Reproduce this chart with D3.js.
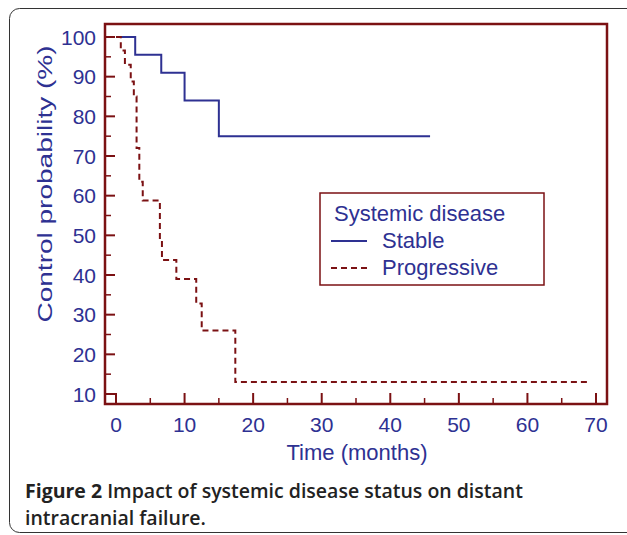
<!DOCTYPE html>
<html><head><meta charset="utf-8">
<script src="https://cdn.jsdelivr.net/npm/d3@7"></script>
<style>body{margin:0;background:#fff}</style>
</head><body><svg></svg>
<script>
const [W, H] = [627, 535];
const stableT = [0, 2.8, 6.6, 10, 15, 45.8];
const stableS = [100, 95.5, 91, 84, 75, 75];
const progT = [0, 0.7, 1.3, 2.15, 2.6, 3.0, 3.4, 3.9, 6.4, 6.7, 8.8, 11.7, 12.5, 17.4, 68.8];
const progS = [100, 96.6, 93, 88.8, 85, 72, 63.5, 58.8, 49, 43.8, 39, 32.8, 26, 13, 13];
const xTicks = [0, 10, 20, 30, 40, 50, 60, 70];
const yTicks = [10, 20, 30, 40, 50, 60, 70, 80, 90, 100];
const axisCol = '#7b1113', textCol = '#2e3192';
const font = 'Liberation Sans, Arial';

const svg = d3.select('svg').attr('width', W).attr('height', H);
svg.append('rect').attr('x', 9.5).attr('y', 8.5).attr('width', 640).attr('height', 524)
  .attr('rx', 10).attr('fill', 'none').attr('stroke', '#333').attr('stroke-width', 1);

const box = {l: 105, r: 607, t: 24, b: 404};
const x = d3.scaleLinear().domain([0, 70]).range([116, 596]);
const y = d3.scaleLinear().domain([10, 100]).range([394, 37]);

const toPts = (T, S) => T.map((t, i) => [t, S[i]]);
const line = d3.line().x(d => x(d[0])).y(d => y(d[1])).curve(d3.curveStepAfter);

svg.append('path').datum(toPts(stableT, stableS)).attr('d', line)
  .attr('fill', 'none').attr('stroke', '#2e3192').attr('stroke-width', 2);
svg.append('path').datum(toPts(progT, progS)).attr('d', line)
  .attr('fill', 'none').attr('stroke', axisCol).attr('stroke-width', 2).attr('stroke-dasharray', '6,4');

svg.append('rect').attr('x', box.l).attr('y', box.t).attr('width', box.r - box.l).attr('height', box.b - box.t)
  .attr('fill', 'none').attr('stroke', axisCol).attr('stroke-width', 2.5);

const yMinor = d3.range(15, 100, 10);
svg.append('g').selectAll('line').data(yTicks).join('line')
  .attr('x1', box.l).attr('x2', box.l + 10).attr('y1', d => y(d)).attr('y2', d => y(d))
  .attr('stroke', axisCol).attr('stroke-width', 2);
svg.append('g').selectAll('line').data(yMinor).join('line')
  .attr('x1', box.l).attr('x2', box.l + 6).attr('y1', d => y(d)).attr('y2', d => y(d))
  .attr('stroke', axisCol).attr('stroke-width', 1.5);
svg.append('g').selectAll('text').data(yTicks).join('text')
  .attr('x', 96).attr('y', d => y(d)).attr('dy', '0.36em').attr('text-anchor', 'end')
  .attr('font-family', font).attr('font-size', 21).attr('fill', textCol).text(d => d);

const xMinor = d3.range(5, 70, 10);
svg.append('g').selectAll('line').data(xTicks).join('line')
  .attr('x1', d => x(d)).attr('x2', d => x(d)).attr('y1', box.b).attr('y2', box.b - 11)
  .attr('stroke', axisCol).attr('stroke-width', 2);
svg.append('g').selectAll('line').data(xMinor).join('line')
  .attr('x1', d => x(d)).attr('x2', d => x(d)).attr('y1', box.b).attr('y2', box.b - 6)
  .attr('stroke', axisCol).attr('stroke-width', 1.5);
svg.append('g').selectAll('text').data(xTicks).join('text')
  .attr('x', d => x(d)).attr('y', 432).attr('text-anchor', 'middle')
  .attr('font-family', font).attr('font-size', 21).attr('fill', textCol).text(d => d);

svg.append('text').attr('x', 357).attr('y', 460).attr('text-anchor', 'middle')
  .attr('font-family', font).attr('font-size', 22).attr('fill', textCol).text('Time (months)');
svg.append('text').attr('transform', 'translate(52,184) rotate(-90)').attr('text-anchor', 'middle')
  .attr('font-family', font).attr('font-size', 20).attr('fill', textCol)
  .attr('textLength', 277).attr('lengthAdjust', 'spacingAndGlyphs').text('Control probability (%)');

const lg = svg.append('g');
lg.append('rect').attr('x', 320).attr('y', 193).attr('width', 224).attr('height', 92)
  .attr('fill', '#fff').attr('stroke', axisCol).attr('stroke-width', 1.5);
lg.append('text').attr('x', 334).attr('y', 221).attr('font-family', font)
  .attr('font-size', 22).attr('fill', textCol).text('Systemic disease');
lg.append('line').attr('x1', 331).attr('x2', 367).attr('y1', 241).attr('y2', 241)
  .attr('stroke', '#2e3192').attr('stroke-width', 2);
lg.append('line').attr('x1', 331).attr('x2', 367).attr('y1', 268).attr('y2', 268)
  .attr('stroke', axisCol).attr('stroke-width', 2).attr('stroke-dasharray', '6,4');
lg.append('text').attr('x', 382).attr('y', 248).attr('font-family', font)
  .attr('font-size', 22).attr('fill', textCol).text('Stable');
lg.append('text').attr('x', 382).attr('y', 275).attr('font-family', font)
  .attr('font-size', 22).attr('fill', textCol).text('Progressive');

const cap = svg.append('text').attr('font-family', 'Open Sans, Noto Sans').attr('font-size', 19.5)
  .attr('fill', '#222').attr('font-weight', 600);
const c1 = cap.append('tspan').attr('x', 25).attr('y', 498);
c1.append('tspan').attr('font-weight', 'bold').text('Figure 2');
c1.append('tspan').text(' Impact of systemic disease status on distant');
cap.append('tspan').attr('x', 25).attr('y', 525).text('intracranial failure.');
</script></body></html>
